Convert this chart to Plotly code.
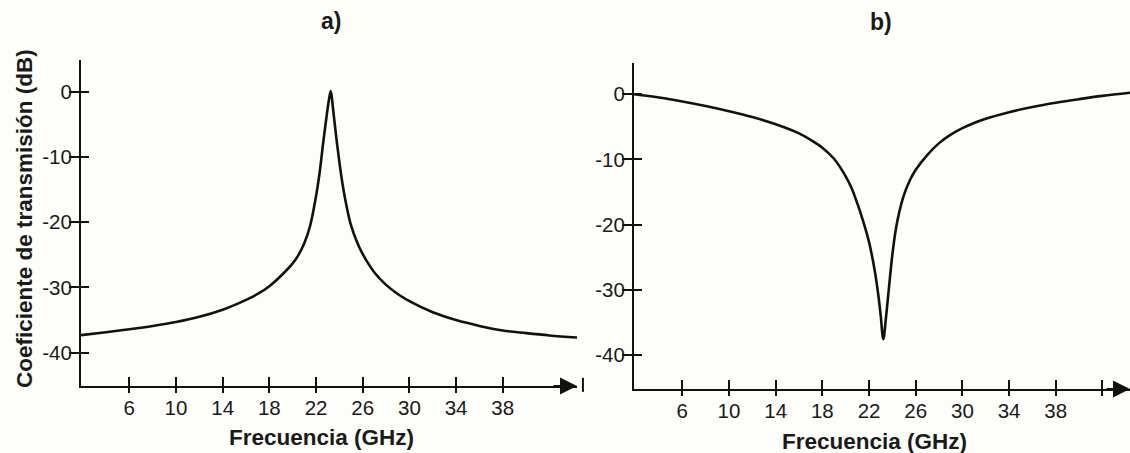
import plotly.graph_objects as go

# ---- data ----
freq_a = [1.86, 4, 6, 8, 10, 12, 14, 15, 16, 17, 18, 19, 20, 20.5, 21, 21.5,
          22, 22.3, 22.6, 22.9, 23.1, 23.26, 23.45, 23.7, 24.0, 24.3, 24.6, 25,
          25.5, 26, 27, 28, 29, 30, 32, 34, 36, 38, 40, 42, 44.6]
trans_a = [-37.3, -36.85, -36.4, -35.9, -35.3, -34.5, -33.4, -32.7, -31.9, -31.0,
           -29.8, -28.2, -26.3, -25.0, -23.2, -20.5, -16.0, -12.5, -8.0, -3.8,
           -1.3, 0.1, -2.5, -6.5, -10.8, -14.5, -17.4, -20.5, -23.0, -24.9,
           -27.7, -29.6, -31.0, -32.1, -33.8, -35.0, -35.9, -36.6, -37.0, -37.35,
           -37.7]

freq_b = [1.86, 4, 6, 8, 10, 12, 14, 16, 17, 18, 19, 20, 20.5, 21, 21.5, 22,
          22.5, 22.8, 23.0, 23.22, 23.45, 23.7, 24.0, 24.3, 24.6, 25, 25.5, 26,
          27, 28, 29, 30, 31, 32, 34, 36, 38, 40, 42, 44.4]
trans_b = [0.0, -0.5, -1.1, -1.8, -2.6, -3.5, -4.6, -6.0, -7.0, -8.2, -9.9,
           -12.6, -14.4, -16.8, -19.5, -22.7, -27.2, -30.9, -34.0, -37.6, -34.3,
           -29.8, -24.6, -20.7, -18.0, -15.4, -13.2, -11.6, -9.3, -7.5, -6.2,
           -5.2, -4.4, -3.75, -2.75, -1.95, -1.3, -0.75, -0.25, 0.25]

x_ticks_a = [6, 10, 14, 18, 22, 26, 30, 34, 38]
x_labels_a = ["6", "10", "14", "18", "22", "26", "30", "34", "38"]
x_ticks_b = [6, 10, 14, 18, 22, 26, 30, 34, 38, 42]
x_labels_b = ["6", "10", "14", "18", "22", "26", "30", "34", "38", ""]
y_ticks = [0, -10, -20, -30, -40]
y_labels = ["0", "-10", "-20", "-30", "-40"]

panel_titles = ["a)", "b)"]
x_title = "Frecuencia (GHz)"
y_title = "Coeficiente de transmisión (dB)"

FONT = "Liberation Sans, Arial, sans-serif"
INK = "#111111"
BG = "#fdfdf9"
W, H = 1130, 453

# pixel geometry of the two panels
xa_dom = [81 / W, 577 / W]
ya_dom = [1 - 386 / H, 1 - 60 / H]
xb_dom = [634 / W, 1.0]
yb_dom = [1 - 389 / H, 1 - 63 / H]
xa_rng = [1.86, 44.36]
ya_rng = [-45.1, 4.86]
xb_rng = [1.86, 44.36]
yb_rng = [-45.25, 4.8]

fig = go.Figure()

line_style = dict(color=INK, width=2.6, shape="spline", smoothing=1.0)
fig.add_trace(go.Scatter(x=freq_a, y=trans_a, mode="lines", line=line_style,
                         xaxis="x", yaxis="y", showlegend=False, hoverinfo="skip"))
fig.add_trace(go.Scatter(x=freq_b, y=trans_b, mode="lines", line=line_style,
                         xaxis="x2", yaxis="y2", showlegend=False, hoverinfo="skip"))
# empty traces to activate the overlay (inner tick) axes
fig.add_trace(go.Scatter(x=[], y=[], xaxis="x3", yaxis="y3", showlegend=False))
fig.add_trace(go.Scatter(x=[], y=[], xaxis="x4", yaxis="y4", showlegend=False))

tickfont = dict(family=FONT, size=20.5, color="#1a1a1a")

def main_x(dom, rng, tv, tt, anchor):
    return dict(domain=dom, range=rng, anchor=anchor, showline=True, linecolor=INK,
                linewidth=2, showgrid=False, zeroline=False, ticks="outside",
                ticklen=5, tickwidth=2, tickcolor=INK, tickvals=tv, ticktext=tt,
                tickfont=tickfont, automargin=False, fixedrange=True,
                ticklabelstandoff=-3)

def main_y(dom, rng, anchor):
    return dict(domain=dom, range=rng, anchor=anchor, showline=True, linecolor=INK,
                linewidth=2, showgrid=False, zeroline=False, ticks="outside",
                ticklen=10, tickwidth=2, tickcolor=INK, tickvals=y_ticks,
                ticktext=y_labels, tickfont=tickfont, automargin=False,
                fixedrange=True, ticklabelstandoff=-7)

def inner(over, rng, tv, anchor, ln, side):
    return dict(overlaying=over, range=rng, anchor=anchor, side=side, showline=False,
                showgrid=False, zeroline=False, ticks="inside", ticklen=ln,
                tickwidth=2, tickcolor=INK, tickvals=tv, showticklabels=False,
                fixedrange=True)

fig.update_layout(
    width=W, height=H,
    margin=dict(l=0, r=0, t=0, b=0),
    paper_bgcolor=BG, plot_bgcolor=BG,
    xaxis=main_x(xa_dom, xa_rng, x_ticks_a, x_labels_a, "y"),
    yaxis=main_y(ya_dom, ya_rng, "x"),
    xaxis2=main_x(xb_dom, xb_rng, x_ticks_b, x_labels_b, "y2"),
    yaxis2=main_y(yb_dom, yb_rng, "x2"),
    xaxis3=inner("x", xa_rng, x_ticks_a, "y3", 9, "bottom"),
    yaxis3=inner("y", ya_rng, y_ticks, "x3", 8, "left"),
    xaxis4=inner("x2", xb_rng, x_ticks_b, "y4", 9, "bottom"),
    yaxis4=inner("y2", yb_rng, y_ticks, "x4", 8, "left"),
)

bold = dict(family=FONT, color="#1a1a1a", weight="bold")

annotations = [
    # panel titles
    dict(text=panel_titles[0], xref="paper", yref="paper", x=331 / W, y=1 - 21 / H,
         showarrow=False, font=dict(size=23, **bold), xanchor="center", yanchor="middle"),
    dict(text=panel_titles[1], xref="paper", yref="paper", x=881 / W, y=1 - 22 / H,
         showarrow=False, font=dict(size=23, **bold), xanchor="center", yanchor="middle"),
    # x titles
    dict(text=x_title, xref="paper", yref="paper", x=321 / W, y=1 - 437 / H,
         showarrow=False, font=dict(size=22.5, **bold), xanchor="center", yanchor="middle"),
    dict(text=x_title, xref="paper", yref="paper", x=874 / W, y=1 - 441 / H,
         showarrow=False, font=dict(size=22.5, **bold), xanchor="center", yanchor="middle"),
    # y title
    dict(text=y_title, xref="paper", yref="paper", x=24 / W, y=1 - 219 / H,
         showarrow=False, textangle=-90, font=dict(size=22.5, **bold),
         xanchor="center", yanchor="middle"),
    # arrowheads at the end of the x axes
    dict(text="", xref="x domain", yref="y domain", x=1.0, y=0, ax=-25, ay=0,
         showarrow=True, arrowhead=2, arrowsize=1.7, arrowwidth=2, arrowcolor=INK),
    dict(text="", xref="x2 domain", yref="y2 domain", x=1.0, y=0, ax=-25, ay=0,
         showarrow=True, arrowhead=2, arrowsize=1.7, arrowwidth=2, arrowcolor=INK),
]
fig.update_layout(annotations=annotations)

# small end bar after the left arrow
fig.add_shape(type="line", xref="x domain", yref="y domain",
              x0=1.012, x1=1.012, y0=-0.018, y1=0.025,
              line=dict(color=INK, width=2))

fig.write_html("out.html", config={"displayModeBar": False},
               post_script="document.body.style.margin='0';document.body.style.overflow='hidden';")
